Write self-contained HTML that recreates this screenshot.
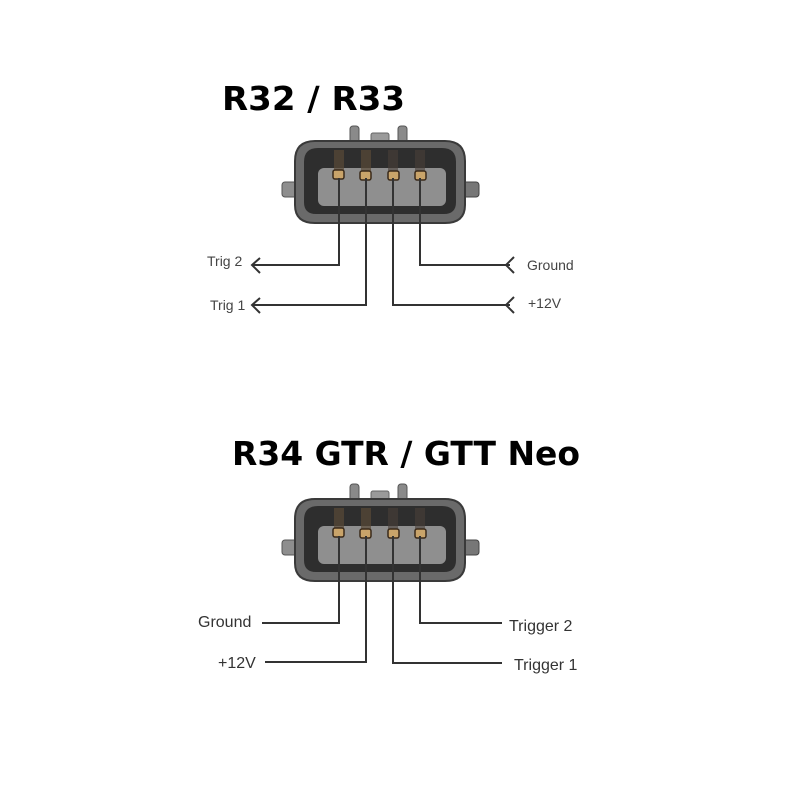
<!DOCTYPE html>
<html><head><meta charset="utf-8"><style>
html,body{margin:0;padding:0;background:#fff;}
svg{display:block;}
</style></head><body>
<svg width="800" height="800" viewBox="0 0 800 800" xmlns="http://www.w3.org/2000/svg">
<defs>
<g id="conn">
  <rect x="350" y="126" width="9" height="22" rx="3" fill="#8a8a8a" stroke="#555" stroke-width="1"/>
  <rect x="398" y="126" width="9" height="22" rx="3" fill="#8a8a8a" stroke="#555" stroke-width="1"/>
  <rect x="371" y="133" width="18" height="14" rx="2" fill="#9a9a9a" stroke="#666" stroke-width="1"/>
  <rect x="282" y="182" width="20" height="15" rx="3" fill="#8e8e8e" stroke="#555"/>
  <rect x="459" y="182" width="20" height="15" rx="3" fill="#777" stroke="#444"/>
  <path d="M315,141 L445,141 Q465,141 465,161 L465,205 Q465,223 445,223 L315,223 Q295,223 295,205 L295,161 Q295,141 315,141 Z" fill="#6a6a6a" stroke="#3a3a3a" stroke-width="2"/>
  <path d="M318,148 L442,148 Q456,148 456,162 L456,202 Q456,214 444,214 L316,214 Q304,214 304,202 L304,162 Q304,148 318,148 Z" fill="#2e2e2e"/>
  <rect x="318" y="168" width="128" height="38" rx="6" fill="#8f8f8f"/>
  <rect x="334" y="150" width="10" height="22" fill="#5a4a38" opacity="0.7"/>
  <rect x="361" y="150" width="10" height="22" fill="#5a4a38" opacity="0.7"/>
  <rect x="388" y="150" width="10" height="22" fill="#4a4038" opacity="0.6"/>
  <rect x="415" y="150" width="10" height="22" fill="#4a4038" opacity="0.6"/>
  <rect x="333" y="170" width="11" height="9" rx="2" fill="#c9a46a" stroke="#3a2a1a" stroke-width="1.5"/>
  <rect x="360" y="171" width="11" height="9" rx="2" fill="#c9a46a" stroke="#3a2a1a" stroke-width="1.5"/>
  <rect x="388" y="171" width="11" height="9" rx="2" fill="#c9a46a" stroke="#3a2a1a" stroke-width="1.5"/>
  <rect x="415" y="171" width="11" height="9" rx="2" fill="#c9a46a" stroke="#3a2a1a" stroke-width="1.5"/>
</g>
</defs>
<g font-family="'DejaVu Sans','Liberation Sans',sans-serif" font-weight="bold" font-size="33" fill="#000">
  <text x="222" y="110" textLength="183" lengthAdjust="spacingAndGlyphs">R32 / R33</text>
  <text x="232" y="465" textLength="348" lengthAdjust="spacingAndGlyphs">R34 GTR / GTT Neo</text>
</g>
<use href="#conn"/>
<g stroke="#333" stroke-width="2" fill="none">
  <polyline points="339,178 339,265 252,265"/>
  <polyline points="366,178 366,305 252,305"/>
  <polyline points="393,178 393,305 510,305"/>
  <polyline points="420,178 420,265 510,265"/>
  <polyline points="260,258 252,265 260,273"/>
  <polyline points="260,298 252,305 260,313"/>
  <polyline points="514,257 506,265 514,273"/>
  <polyline points="514,297 506,305 514,313"/>
</g>
<g font-family="'Liberation Sans',sans-serif" font-size="14" fill="#444">
  <text x="207" y="266">Trig 2</text>
  <text x="210" y="310">Trig 1</text>
  <text x="527" y="270">Ground</text>
  <text x="528" y="308">+12V</text>
</g>
<use href="#conn" transform="translate(0,358)"/>
<g stroke="#333" stroke-width="2" fill="none">
  <polyline points="339,536 339,623 262,623"/>
  <polyline points="366,536 366,662 265,662"/>
  <polyline points="393,536 393,663 502,663"/>
  <polyline points="420,536 420,623 502,623"/>
</g>
<g font-family="'Liberation Sans',sans-serif" font-size="16" fill="#333">
  <text x="198" y="627">Ground</text>
  <text x="218" y="668">+12V</text>
  <text x="509" y="631">Trigger 2</text>
  <text x="514" y="670">Trigger 1</text>
</g>
</svg>
</body></html>
